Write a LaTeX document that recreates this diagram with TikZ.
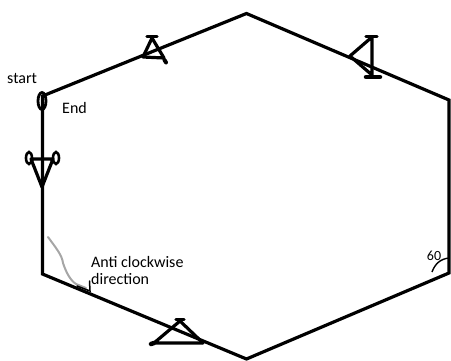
\documentclass[tikz,border=0pt]{standalone}
\usepackage{fontspec}
\setmainfont{Carlito}
\begin{document}
\begin{tikzpicture}[x=1pt,y=-1pt,
  edge/.style={line width=3.2pt,line join=miter},
  mark stroke/.style={line width=3.2pt,line cap=round,line join=round},
  blob/.style={line width=3.2pt,line cap=round},
  lbl/.style={font=\fontsize{16}{18}\selectfont,inner sep=0pt}]
\useasboundingbox (0,0) rectangle (451,360);
% hexagon vertices
\coordinate (T) at (246.5,13.5);
\coordinate (UR) at (449,100);
\coordinate (LR) at (449,273);
\coordinate (B) at (246.5,359);
\coordinate (LL) at (42.5,274);
\coordinate (UL) at (42.5,96);
\draw[edge] (UL) -- (T) -- (UR) -- (LR) -- (B) -- (LL) -- cycle;
% start / end loop
\draw[line width=2.8pt] (42,101) ellipse (4pt and 8.5pt);
\node[lbl,anchor=west] (start) at (7,78) {start};
\node[lbl,anchor=west] (end) at (62,108) {End};
% arrow on upper-left edge
\draw[mark stroke] (152,38) -- (143,57) -- (164,58) -- cycle;
\draw[blob] (147,36.5) -- (157,36.5);
\draw[line width=4pt,line cap=round] (164.5,60) -- (166,62.5);
% arrow on upper-right edge
\draw[mark stroke] (372,37) -- (350,56) -- (372,75) -- cycle;
\draw[blob] (366,36.5) -- (377,36.5);
\draw[line width=4.5pt,line cap=round] (366,77) -- (380,77);
% arrow on left edge
\draw[mark stroke] (31,159) -- (53,159) -- (42,187) -- cycle;
\draw[line width=2.6pt] (29,158) ellipse (3pt and 6pt);
\draw[line width=2.6pt] (56,158) ellipse (3pt and 6pt);
% arrow on lower-left edge
\draw[mark stroke] (180,321) -- (154,343) -- (203,343);
\draw[mark stroke] (180,321) -- (203,343);
\draw[blob] (176,319.5) -- (184,319.5);
\draw[line width=4.5pt,line cap=round] (151,344) -- (154,343);
% anti clockwise hint
\draw[gray!70,line width=2pt,line cap=round] (48,237) .. controls (56,248) and (62,255) .. (63,263)
  .. controls (66,272) and (70,280) .. (76,284) -- (86,288);
\draw[line width=1.5pt,line cap=round] (77,286) -- (90,291) -- (89.5,281);
\node[lbl,anchor=west] (anti) at (91,262) {Anti clockwise};
\node[lbl,anchor=west] (dir) at (91,279) {direction};
% 60 degree mark
\draw[line width=1.4pt] (432,272) .. controls (435,264) and (440,259) .. (449,258);
\node[lbl,anchor=center,font=\fontsize{14}{16}\selectfont] (sixty) at (434,256) {60};
\end{tikzpicture}
\end{document}
